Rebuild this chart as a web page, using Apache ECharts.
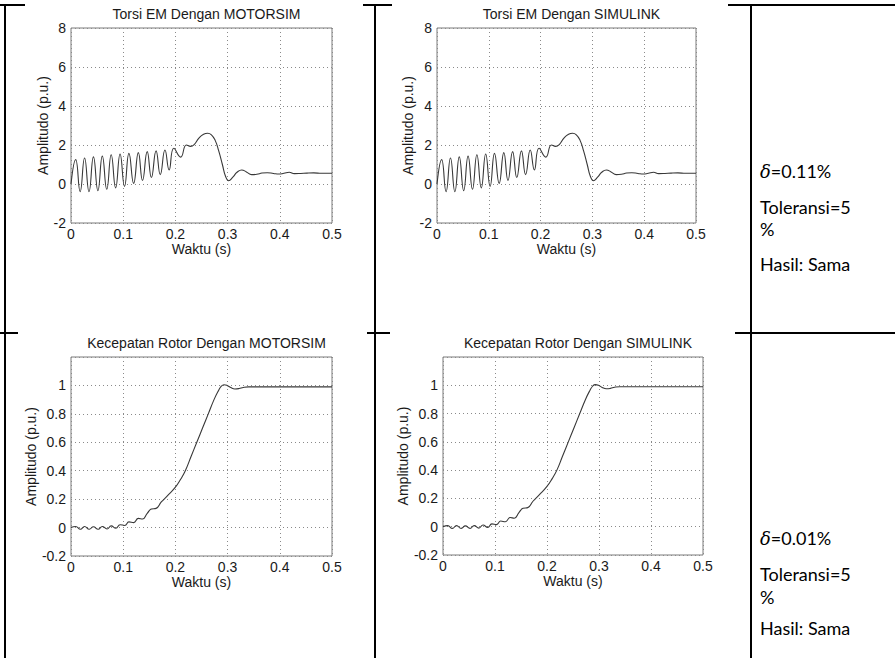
<!DOCTYPE html>
<html>
<head>
<meta charset="utf-8">
<script src="https://cdn.jsdelivr.net/npm/echarts@6/dist/echarts.min.js"></script>
<style>
html,body{margin:0;padding:0;background:#fff;}
#chart{width:895px;height:658px;}
</style>
</head>
<body>
<div id="chart"></div>
<script>
// ---------------- data ----------------
const chartTitles = [
  'Torsi EM Dengan MOTORSIM',
  'Torsi EM Dengan SIMULINK',
  'Kecepatan Rotor Dengan MOTORSIM',
  'Kecepatan Rotor Dengan SIMULINK'
];
const xAxisName = 'Waktu (s)';
const yAxisName = 'Amplitudo (p.u.)';

// Electromagnetic torque, MOTORSIM
const torqueMotorsimT = [0, 0.009, 0.0175, 0.026, 0.0345, 0.043, 0.0515, 0.060, 0.0685, 0.077, 0.0855, 0.094, 0.1025, 0.111, 0.120, 0.129, 0.137, 0.146, 0.154, 0.163, 0.171, 0.180, 0.188, 0.197, 0.210, 0.221, 0.229, 0.236, 0.245, 0.254, 0.262, 0.269, 0.276, 0.283, 0.290, 0.296, 0.302, 0.310, 0.318, 0.327, 0.336, 0.346, 0.356, 0.366, 0.376, 0.388, 0.398, 0.408, 0.418, 0.428, 0.440, 0.452, 0.465, 0.480, 0.500];
const torqueMotorsimV = [0, 1.25, -0.39, 1.33, -0.39, 1.39, -0.34, 1.43, -0.27, 1.5, -0.2, 1.54, -0.12, 1.57, 0.03, 1.61, 0.18, 1.66, 0.33, 1.7, 0.48, 1.74, 0.72, 1.83, 1.38, 2.0, 1.93, 2.02, 2.35, 2.55, 2.6, 2.52, 2.25, 1.7, 1.0, 0.4, 0.17, 0.35, 0.6, 0.72, 0.62, 0.48, 0.5, 0.56, 0.58, 0.54, 0.51, 0.55, 0.6, 0.53, 0.54, 0.56, 0.57, 0.55, 0.55];

// Electromagnetic torque, SIMULINK
const torqueSimulinkT = [0, 0.009, 0.0175, 0.026, 0.0345, 0.043, 0.0515, 0.060, 0.0685, 0.077, 0.0855, 0.094, 0.1025, 0.111, 0.120, 0.129, 0.137, 0.146, 0.154, 0.163, 0.171, 0.180, 0.188, 0.197, 0.210, 0.221, 0.229, 0.236, 0.245, 0.254, 0.262, 0.269, 0.276, 0.283, 0.290, 0.296, 0.302, 0.310, 0.318, 0.327, 0.336, 0.346, 0.356, 0.366, 0.376, 0.388, 0.398, 0.408, 0.418, 0.428, 0.440, 0.452, 0.465, 0.480, 0.500];
const torqueSimulinkV = [0, 1.25, -0.39, 1.33, -0.39, 1.39, -0.34, 1.43, -0.27, 1.5, -0.2, 1.54, -0.12, 1.57, 0.03, 1.61, 0.18, 1.66, 0.33, 1.7, 0.48, 1.74, 0.72, 1.83, 1.38, 2.0, 1.93, 2.02, 2.35, 2.55, 2.6, 2.52, 2.25, 1.7, 1.0, 0.4, 0.17, 0.35, 0.6, 0.72, 0.62, 0.48, 0.5, 0.56, 0.58, 0.54, 0.51, 0.55, 0.6, 0.53, 0.54, 0.56, 0.57, 0.55, 0.55];

// Rotor speed, MOTORSIM
const speedMotorsimT = [0, 0.009, 0.018, 0.026, 0.035, 0.043, 0.052, 0.060, 0.069, 0.077, 0.086, 0.094, 0.103, 0.111, 0.120, 0.129, 0.137, 0.146, 0.154, 0.163, 0.173, 0.185, 0.200, 0.210, 0.219, 0.230, 0.241, 0.252, 0.263, 0.274, 0.282, 0.288, 0.293, 0.299, 0.306, 0.314, 0.322, 0.330, 0.340, 0.360, 0.400, 0.450, 0.500];
const speedMotorsimV = [0, 0.008, -0.012, 0.008, -0.012, 0.006, -0.012, 0.008, -0.01, 0.012, -0.005, 0.02, 0.015, 0.04, 0.035, 0.065, 0.06, 0.1, 0.13, 0.135, 0.18, 0.225, 0.285, 0.34, 0.4, 0.5, 0.6, 0.7, 0.8, 0.9, 0.96, 0.995, 1.005, 1.0, 0.985, 0.975, 0.978, 0.986, 0.99, 0.99, 0.99, 0.99, 0.99];

// Rotor speed, SIMULINK
const speedSimulinkT = [0, 0.009, 0.018, 0.026, 0.035, 0.043, 0.052, 0.060, 0.069, 0.077, 0.086, 0.094, 0.103, 0.111, 0.120, 0.129, 0.137, 0.146, 0.154, 0.163, 0.173, 0.185, 0.200, 0.210, 0.219, 0.230, 0.241, 0.252, 0.263, 0.274, 0.282, 0.288, 0.293, 0.299, 0.306, 0.314, 0.322, 0.330, 0.340, 0.360, 0.400, 0.450, 0.500];
const speedSimulinkV = [0, 0.008, -0.012, 0.008, -0.012, 0.006, -0.012, 0.008, -0.01, 0.012, -0.005, 0.02, 0.015, 0.04, 0.035, 0.065, 0.06, 0.1, 0.13, 0.135, 0.18, 0.225, 0.285, 0.34, 0.4, 0.5, 0.6, 0.7, 0.8, 0.9, 0.96, 0.995, 1.005, 1.0, 0.985, 0.975, 0.978, 0.986, 0.99, 0.99, 0.99, 0.99, 0.99];

// axis ranges / ticks
const xRange = [0, 0.5], xStep = 0.1;
const torqueRange = [-2, 8], torqueStep = 2;
const speedRange = [-0.2, 1.2], speedStep = 0.2;

// right column texts
const resultRows = [
  { delta: '=0.11%', tol: 'Toleransi=5', pct: '%', hasil: 'Hasil: Sama' },
  { delta: '=0.01%', tol: 'Toleransi=5', pct: '%', hasil: 'Hasil: Sama' }
];

// ---------------- chart ----------------
const zip = (t, v) => t.map((x, i) => [x, v[i]]);
const FONT = 'Liberation Sans, Arial, sans-serif';

const grids = [
  { left: 71,  top: 28,  width: 261, height: 195 },
  { left: 437, top: 28,  width: 259, height: 195 },
  { left: 71,  top: 357, width: 261, height: 199 },
  { left: 443, top: 357, width: 260, height: 198 }
];
const yNameGaps = [20, 22, 31, 31];
const ranges = [torqueRange, torqueRange, speedRange, speedRange];
const steps = [torqueStep, torqueStep, speedStep, speedStep];
const seriesData = [
  zip(torqueMotorsimT, torqueMotorsimV),
  zip(torqueSimulinkT, torqueSimulinkV),
  zip(speedMotorsimT, speedMotorsimV),
  zip(speedSimulinkT, speedSimulinkV)
];

const splitLine = { show: true, lineStyle: { type: [1, 3], color: '#8a8a8a', width: 1 } };

const option = {
  backgroundColor: '#fff',
  animation: false,
  title: grids.map((g, i) => ({
    text: chartTitles[i],
    left: g.left + g.width / 2,
    top: g.top - 26,
    textAlign: 'center',
    textStyle: { fontFamily: FONT, fontSize: 14, fontWeight: 'normal', color: '#1a1a1a' }
  })),
  grid: grids.map(g => Object.assign({ show: true, borderColor: '#7a7a7a', borderWidth: 1, backgroundColor: 'transparent' }, g)),
  xAxis: grids.map((g, i) => ({
    type: 'value', gridIndex: i, min: xRange[0], max: xRange[1], interval: xStep,
    name: xAxisName, nameLocation: 'middle', nameGap: 18,
    nameTextStyle: { fontFamily: FONT, fontSize: 14, color: '#1a1a1a' },
    axisLine: { show: false }, axisTick: { show: false },
    axisLabel: { fontFamily: FONT, fontSize: 14, color: '#1a1a1a', margin: 4 },
    splitLine: splitLine
  })),
  yAxis: grids.map((g, i) => ({
    type: 'value', gridIndex: i, min: ranges[i][0], max: ranges[i][1], interval: steps[i],
    name: yAxisName, nameLocation: 'middle', nameGap: yNameGaps[i],
    nameTextStyle: { fontFamily: FONT, fontSize: 14, color: '#1a1a1a' },
    axisLine: { show: false }, axisTick: { show: false },
    axisLabel: { fontFamily: FONT, fontSize: 14, color: '#1a1a1a', margin: 5, showMaxLabel: i < 2 },
    splitLine: splitLine
  })),
  series: seriesData.map((d, i) => ({
    type: 'line', xAxisIndex: i, yAxisIndex: i, data: d,
    showSymbol: false, smooth: 0.5, silent: true,
    lineStyle: { color: '#383838', width: 1.1 }
  })),
  graphic: []
};

// table borders
const B = { stroke: '#000', lineWidth: 2 };
const segs = [
  [0, 5, 25, 5], [363, 5, 392, 5], [728, 5, 895, 5],
  [0, 333, 18, 333], [367, 333, 390, 333], [735, 333, 895, 333],
  [5, 4, 5, 658], [375, 4, 375, 658], [751, 4, 751, 658]
];
segs.forEach(s => option.graphic.push({
  type: 'line', silent: true, z: 100,
  shape: { x1: s[0], y1: s[1], x2: s[2], y2: s[3] }, style: B
}));

// right column text
const rowY = [[173, 209, 231, 266], [540, 576, 599, 630]];
const TFONT = 'Lato, "Open Sans", sans-serif';
const TSIZE = 18;
resultRows.forEach((r, k) => {
  const ys = rowY[k];
  option.graphic.push({
    type: 'text', left: 760, top: ys[0] - 11, silent: true,
    style: {
      text: '{d|δ}{n|' + r.delta + '}',
      rich: {
        d: { fontFamily: 'DejaVu Serif, serif', fontStyle: 'italic', fontSize: 18, fill: '#000' },
        n: { fontFamily: TFONT, fontSize: TSIZE, fill: '#000' }
      }
    }
  });
  [r.tol, r.pct, r.hasil].forEach((t, j) => option.graphic.push({
    type: 'text', left: 760, top: ys[j + 1] - 11, silent: true,
    style: { text: t, fontFamily: TFONT, fontSize: TSIZE, fill: '#000' }
  }));
});

const chart = echarts.init(document.getElementById('chart'), null, { renderer: 'svg' });
chart.setOption(option);
</script>
</body>
</html>
